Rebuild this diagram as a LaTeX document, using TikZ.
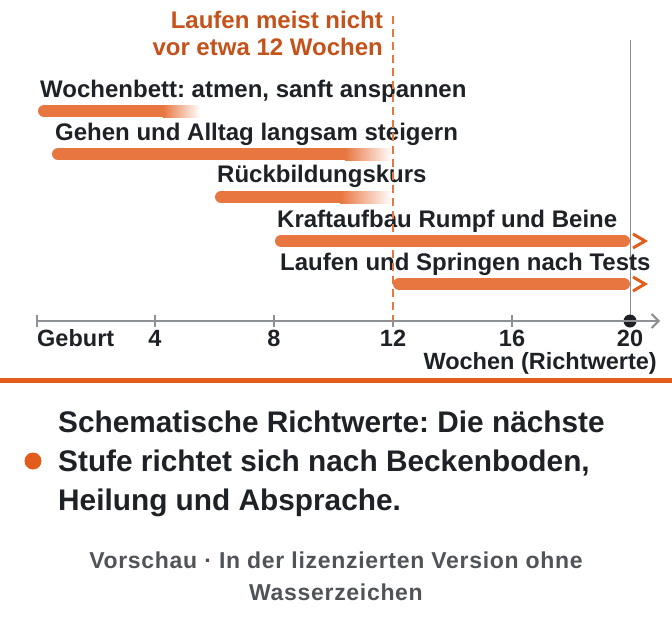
\documentclass[tikz,border=0pt]{standalone}
\usepackage{fontspec}
\setmainfont{Liberation Sans}
\newfontfamily\footfont[LetterSpace=3]{Liberation Sans}
\usetikzlibrary{arrows.meta}
\frenchspacing

\definecolor{barorange}{RGB}{232,118,64}
\definecolor{titleorange}{RGB}{196,82,26}
\definecolor{ruleorange}{RGB}{226,92,28}
\definecolor{inkdark}{RGB}{30,34,38}
\definecolor{axisgray}{RGB}{140,144,148}
\definecolor{footgray}{RGB}{80,84,88}

\tikzset{
  bar/.style={draw=barorange, line width=12pt, line cap=round},
  fadebar/.style={left color=barorange, right color=white, draw=none},
  chev/.style={draw=ruleorange, line width=3pt, line join=miter},
  lbl/.style={anchor=base west, inner sep=0pt, text=inkdark, font=\fontsize{24}{28}\selectfont\bfseries},
  ticklbl/.style={anchor=base, inner sep=0pt, text=inkdark, font=\fontsize{23.5}{28}\selectfont\bfseries},
  titlelbl/.style={anchor=base east, inner sep=0pt, text=titleorange, font=\fontsize{24}{28}\selectfont\bfseries},
  notelbl/.style={anchor=base west, inner sep=0pt, text=inkdark, font=\fontsize{29.8}{39}\selectfont\bfseries},
  footlbl/.style={anchor=base, inner sep=0pt, text=footgray, font=\fontsize{23}{32}\footfont\bfseries},
}

\begin{document}
\begin{tikzpicture}[x=1pt,y=-1pt]
\useasboundingbox[fill=white] (0,0) rectangle (672,616);

% week 20 line and axis
\draw[axisgray, line width=0.8pt] (630,40) -- (630,321);
\fill[inkdark] (630,321) circle (6.5);
\draw[axisgray, line width=2pt, -{Straight Barb[length=7pt,width=14pt]}] (37,321) -- (660,321);
\foreach \x in {37,155,274,393,512}
  \draw[axisgray, line width=2pt] (\x,315) -- (\x,327);

\node[ticklbl, anchor=base west] (geburt) at (37,346) {Geburt};
\foreach \w/\x in {4/155,8/274,12/393,16/512,20/630}
  \node[ticklbl] (t\w) at (\x,346) {\w};
\node[ticklbl, anchor=base east] (achse) at (657,369) {Wochen (Richtwerte)};

% phases
\node[lbl] (wochenbett) at (40,97) {Wochenbett: atmen, sanft anspannen};
\draw[bar] (44,111) -- (163,111);
\shade[fadebar] (163,105) rectangle (200,117);

\node[lbl] (gehen) at (55,140) {Gehen und Alltag langsam steigern};
\draw[bar] (58,154) -- (345,154);
\shade[fadebar] (345,148) rectangle (392,160);

\node[lbl] (kurs) at (217,182) {Rückbildungskurs};
\draw[bar] (221,197) -- (340,197);
\shade[fadebar] (340,191) rectangle (392,203);

\node[lbl] (kraft) at (277,227) {Kraftaufbau Rumpf und Beine};
\draw[bar] (281,241) -- (624,241);
\draw[chev] (633,234) -- (645,241) -- (633,248);

\node[lbl] (laufen) at (280,270) {Laufen und Springen nach Tests};
\draw[bar] (399,284) -- (624,284);
\draw[chev] (633,277) -- (645,284) -- (633,291);

% 12 weeks mark
\draw[barorange, line width=2pt, dash pattern=on 8pt off 5pt] (393,16) -- (393,321);
\node[titlelbl] (titel1) at (383,28) {Laufen meist nicht};
\node[titlelbl] (titel2) at (383,55) {vor etwa 12 Wochen};

% note
\fill[ruleorange] (0,377.5) rectangle (672,382.5);
\fill[ruleorange] (33,461) circle (8.5);
\node[notelbl] (note1) at (58,432) {Schematische Richtwerte: Die nächste};
\node[notelbl] (note2) at (58,471) {Stufe richtet sich nach Beckenboden,};
\node[notelbl] (note3) at (58,510) {Heilung und Absprache.};

\node[footlbl] (fuss1) at (336,568) {Vorschau · In der lizenzierten Version ohne};
\node[footlbl] (fuss2) at (336,600) {Wasserzeichen};
\end{tikzpicture}
\end{document}
